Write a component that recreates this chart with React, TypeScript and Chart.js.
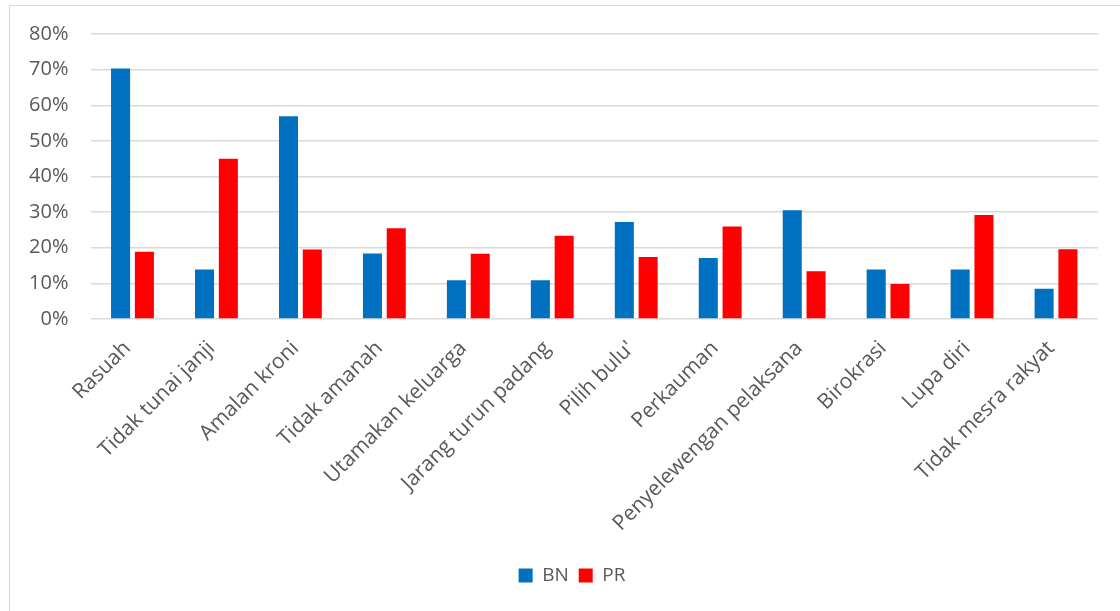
import React, { useEffect, useRef } from "react";
import { Chart, registerables } from "chart.js";

Chart.register(...registerables);

const categories = [
  "Rasuah",
  "Tidak tunai janji",
  "Amalan kroni",
  "Tidak amanah",
  "Utamakan keluarga",
  "Jarang turun padang",
  "Pilih bulu'",
  "Perkauman",
  "Penyelewengan pelaksana",
  "Birokrasi",
  "Lupa diri",
  "Tidak mesra rakyat",
];

const bnValues = [70.3, 13.9, 56.9, 18.4, 10.9, 10.9, 27.2, 17.1, 30.5, 13.9, 13.9, 8.5];
const prValues = [18.9, 45.0, 19.5, 25.5, 18.3, 23.4, 17.4, 26.0, 13.4, 9.8, 29.2, 19.6];

const yTicks = [0, 10, 20, 30, 40, 50, 60, 70, 80];

const FONT = "'Open Sans', 'DejaVu Sans', sans-serif";
const TEXT = "#595959";

const legendShift = {
  id: "legendShift",
  afterLayout(chart: any) {
    const lg = chart.legend;
    if (lg) {
      lg.left += 18;
      lg.right += 18;
    }
  },
};

export default function App() {
  const ref = useRef<HTMLCanvasElement | null>(null);

  useEffect(() => {
    if (!ref.current) return;
    const chart = new Chart(ref.current, {
      type: "bar",
      data: {
        labels: categories,
        datasets: [
          {
            label: "BN",
            data: bnValues,
            backgroundColor: "#0070C0",
            categoryPercentage: 0.567,
            barPercentage: 0.8,
          },
          {
            label: "PR",
            data: prValues,
            backgroundColor: "#FF0000",
            categoryPercentage: 0.567,
            barPercentage: 0.8,
          },
        ],
      },
      options: {
        animation: false,
        responsive: false,
        maintainAspectRatio: false,
        layout: { padding: { left: 0, top: 28, right: 22, bottom: 16 } },
        plugins: {
          legend: {
            position: "bottom",
            labels: {
              boxWidth: 14,
              boxHeight: 14,
              padding: 10,
              color: TEXT,
              font: { family: FONT, size: 19 },
            },
          },
          tooltip: { enabled: false },
        },
        scales: {
          x: {
            grid: { display: false },
            border: { display: false },
            ticks: {
              color: TEXT,
              font: { family: FONT, size: 21 },
              minRotation: 45,
              maxRotation: 45,
              autoSkip: false,
              padding: 9,
              labelOffset: -5,
            },
            afterFit: (scale: any) => {
              scale.height = 237;
              scale.paddingLeft = 0;
              scale.paddingRight = 0;
            },
          },
          y: {
            min: 0,
            max: 80,
            afterBuildTicks: (scale: any) => {
              scale.ticks = yTicks.map((v) => ({ value: v }));
            },
            grid: { color: "#d9d9d9", lineWidth: 1.5, drawTicks: false },
            border: { display: false },
            ticks: {
              color: TEXT,
              font: { family: FONT, size: 20 },
              padding: 22,
              callback: (v: any) => v + "%",
            },
            afterFit: (scale: any) => {
              scale.width = 80.5;
              scale.paddingTop = 0;
              scale.paddingBottom = 0;
            },
          },
        },
      },
      plugins: [legendShift],
    });
    return () => chart.destroy();
  }, []);

  return (
    <div
      style={{
        position: "absolute",
        left: 9,
        top: 5,
        width: 1110,
        height: 605,
        borderLeft: "1px solid #d9d9d9",
        borderTop: "1px solid #d9d9d9",
        background: "#fff",
      }}
    >
      <canvas ref={ref} width={1110} height={605} style={{ display: "block" }} />
    </div>
  );
}
